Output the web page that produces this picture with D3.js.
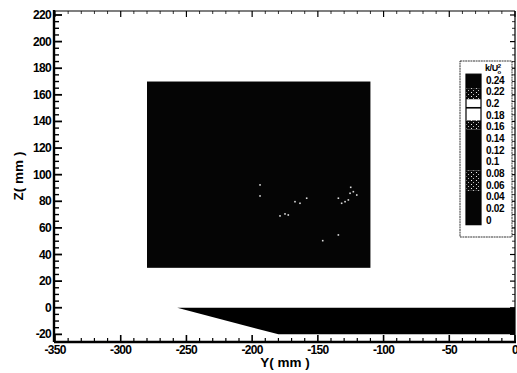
<!DOCTYPE html>
<html><head><meta charset="utf-8">
<script src="https://cdn.jsdelivr.net/npm/d3@7"></script>
<style>
html,body{margin:0;padding:0;background:#fff;}
svg{display:block;}
text{font-family:"Liberation Sans",Arial,sans-serif;fill:#000;}
</style></head>
<body>
<svg id="c" width="517" height="373"></svg>
<script>
// ---- data ----
const xTicks = [-350,-300,-250,-200,-150,-100,-50,0];
const yTicks = [-20,0,20,40,60,80,100,120,140,160,180,200,220];
const fieldY = [-280,-110];          // measurement window (Y range, mm)
const fieldZ = [30,170];             // measurement window (Z range, mm)
const fieldK = 0.0;                  // nearly uniform k/U0^2 level over the window
const wedgeY = [-257,0,0,-180];      // model geometry outline (Y, mm)
const wedgeZ = [0,0,-20,-20];        // model geometry outline (Z, mm)
const speckY = [-194,-194,-167.4,-163.6,-158.5,-178.8,-175,-172.5,-134.4,-131.9,-129.3,-126.8,-125.5,-123,-120.4,-125,-134.4,-146.3];
const speckZ = [92.3,84,79.7,78.5,82.3,69,70.5,69.7,82.3,78.5,79.7,81,86,87.2,84.7,90.5,54.7,50.4];
const legendTicks = [0,0.02,0.04,0.06,0.08,0.1,0.12,0.14,0.16,0.18,0.2,0.22,0.24];
const bandLo = [-0.008,0.05,0.085,0.155,0.171,0.191,0.194,0.207,0.226];
const bandHi = [0.05,0.085,0.155,0.171,0.191,0.194,0.207,0.226,0.25];
const bandFill = ["k","dot","k","dot","w","k","w","dot","k"];

// ---- layout ----
const svg = d3.select("#c");
const L=55, R=515, T=11, B=341;
const x = d3.scaleLinear().domain([-350,0]).range([L,R]);
const y = d3.scaleLinear().domain([-25,223]).range([B,T]);

// pattern for halftone-like bands
const defs = svg.append("defs");
const pat = defs.append("pattern").attr("id","dots").attr("patternUnits","userSpaceOnUse")
  .attr("width",5).attr("height",4);
pat.append("rect").attr("width",5).attr("height",4).attr("fill","#0a0a0a");
pat.append("rect").attr("x",1).attr("y",0).attr("width",1).attr("height",1).attr("fill","#eee");
pat.append("rect").attr("x",3).attr("y",2).attr("width",1).attr("height",1).attr("fill","#bbb");
const fillOf = f => f==="k" ? "#050505" : f==="w" ? "#fff" : "url(#dots)";

// field rectangle
const kColor = d3.scaleLinear().domain([0,0.24]).range(["#050505","#ffffff"]);
svg.append("rect")
  .attr("x",x(fieldY[0])).attr("y",y(fieldZ[1]))
  .attr("width",x(fieldY[1])-x(fieldY[0])).attr("height",y(fieldZ[0])-y(fieldZ[1]))
  .attr("fill",kColor(fieldK));

// specks
svg.append("g").selectAll("rect").data(speckY.map((v,i)=>[v,speckZ[i]])).join("rect")
  .attr("x",d=>x(d[0])-0.8).attr("y",d=>y(d[1])-0.8).attr("width",1.6).attr("height",1.6)
  .attr("fill","#ddd");

// wedge geometry
svg.append("path")
  .attr("d", d3.line()(wedgeY.map((v,i)=>[x(v),y(wedgeZ[i])])) + "Z")
  .attr("fill","#000");

// axes frame
const gx = svg.append("g");
const minorX = d3.range(-350,1,10), minorY = d3.range(-20,221,5);
function tick(g,x1,y1,x2,y2,w){g.append("line").attr("x1",x1).attr("y1",y1).attr("x2",x2).attr("y2",y2).attr("stroke","#000").attr("stroke-width",w);}
minorX.forEach(v=>{
  const major = xTicks.includes(v);
  tick(gx,x(v),B,x(v),B-(major?6:3),major?1.6:1.2);
  tick(gx,x(v),T,x(v),T+(major?6:3),major?1.2:0.8);
});
minorY.forEach(v=>{
  const major = yTicks.includes(v);
  tick(gx,L,y(v),L+(major?7:4),y(v),major?1.8:1.4);
  tick(gx,R,y(v),R-(major?5:3),y(v),major?1.2:0.8);
});
// frame lines
tick(gx,L,T,R,T,1.2);
tick(gx,R,T,R,B,1.2);
tick(gx,L-1,T-1,L-1,B+1,2.4);
tick(gx,L-1,B+1,R+1,B+1,2.4);

// tick labels
svg.append("g").selectAll("text").data(xTicks).join("text")
  .attr("x",d=>x(d)).attr("y",B+13).attr("text-anchor","middle")
  .attr("font-size",12).attr("font-weight","bold").attr("letter-spacing",-0.7)
  .text(d=>d);
svg.append("g").selectAll("text").data(yTicks).join("text")
  .attr("x",L-4).attr("y",d=>y(d)+4).attr("text-anchor","end")
  .attr("font-size",12).attr("font-weight","bold").attr("letter-spacing",-0.7)
  .text(d=>d);

// axis titles
svg.append("text").attr("x",285).attr("y",367).attr("text-anchor","middle")
  .attr("font-size",13.5).attr("font-weight","bold").text("Y( mm )");
svg.append("text").attr("transform","translate(23,176) rotate(-90)").attr("text-anchor","middle")
  .attr("font-size",13.5).attr("font-weight","bold").text("Z( mm )");

// legend
const lg = svg.append("g");
lg.append("rect").attr("x",460).attr("y",61).attr("width",52).attr("height",176)
  .attr("fill","#fff").attr("stroke","#000").attr("stroke-width",0.8).attr("stroke-dasharray","2,0.6");
const ly = d3.scaleLinear().domain([0,0.24]).range([220,80]);
lg.selectAll("rect.band").data(bandLo.map((v,i)=>[v,bandHi[i],bandFill[i]])).join("rect")
  .attr("class","band").attr("x",466).attr("width",15)
  .attr("y",d=>ly(d[1])).attr("height",d=>ly(d[0])-ly(d[1]))
  .attr("fill",d=>fillOf(d[2]));
lg.append("rect").attr("x",466).attr("width",15)
  .attr("y",ly(bandHi[bandHi.length-1])).attr("height",ly(bandLo[0])-ly(bandHi[bandHi.length-1]))
  .attr("fill","none").attr("stroke","#000").attr("stroke-width",1.2);
lg.selectAll("text.lab").data(legendTicks).join("text").attr("class","lab")
  .attr("x",486).attr("y",d=>ly(d)+3.5).attr("font-size",10).attr("font-weight","bold")
  .attr("letter-spacing",-0.3).text(d=>d);
const tt = lg.append("text").attr("x",485).attr("y",71).attr("font-size",9).attr("font-weight","bold").attr("letter-spacing",-0.4);
tt.append("tspan").text("k/U");
tt.append("tspan").attr("font-size",6).attr("dy",-3.5).text("2");
tt.append("tspan").attr("font-size",6).attr("dx",-3.3).attr("dy",6).text("o");
</script>
</body></html>
